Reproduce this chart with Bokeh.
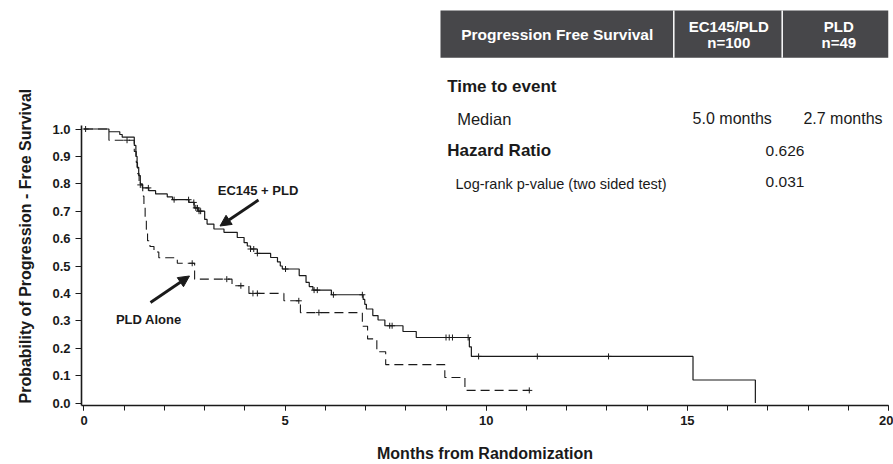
from bokeh.plotting import figure
from bokeh.models import Range1d, FixedTicker, PrintfTickFormatter, Arrow, NormalHead, Title
from bokeh.core.properties import value
from bokeh.embed import file_html
from bokeh.resources import INLINE

# ---------------- data ----------------
ec_time = [0, 0.62, 0.89, 0.95, 1.25, 1.29, 1.32, 1.36, 1.40, 1.45, 1.61, 1.78, 2.07, 2.20, 2.61, 2.74,
           2.84, 3.00, 3.06, 3.23, 3.48, 3.81, 3.98, 4.06, 4.14, 4.31, 4.64, 4.81, 4.88, 4.93, 5.35, 5.52,
           5.60, 5.69, 6.15, 6.94, 6.98, 7.02, 7.18, 7.31, 7.48, 7.93, 8.26, 9.58, 9.63, 15.14, 16.69]
ec_surv = [1.0, 0.99, 0.98, 0.97, 0.94, 0.90, 0.86, 0.83, 0.80, 0.785, 0.775, 0.763, 0.752, 0.742, 0.732, 0.712,
           0.700, 0.670, 0.653, 0.635, 0.623, 0.604, 0.585, 0.573, 0.562, 0.546, 0.531, 0.515, 0.500, 0.489, 0.465, 0.440,
           0.425, 0.412, 0.395, 0.378, 0.360, 0.343, 0.319, 0.303, 0.282, 0.261, 0.239, 0.205, 0.170, 0.084, 0.0]
ec_cens_time = [0.04, 1.60, 2.24, 2.60, 2.73, 2.78, 2.82, 2.86, 2.90, 4.14, 4.22, 4.31, 5.01, 5.72, 5.80,
                6.20, 6.92, 7.60, 7.66, 9.00, 9.08, 9.16, 9.55, 9.81, 11.27, 13.04]
ec_cens_surv = [1.0, 0.785, 0.742, 0.742, 0.732, 0.712, 0.712, 0.700, 0.700, 0.562, 0.562, 0.546, 0.489, 0.412, 0.412,
                0.395, 0.395, 0.282, 0.282, 0.239, 0.239, 0.239, 0.239, 0.170, 0.170, 0.170]

pld_time = [0, 0.62, 1.25, 1.30, 1.33, 1.37, 1.46, 1.49, 1.52, 1.55, 1.58, 1.64, 1.74, 1.86, 2.32, 2.75,
            3.68, 4.10, 4.97, 5.38, 6.92, 7.05, 7.28, 7.50, 8.97, 9.47, 11.07]
pld_surv = [1.0, 0.959, 0.918, 0.878, 0.837, 0.796, 0.755, 0.714, 0.673, 0.633, 0.592, 0.571, 0.551, 0.530, 0.510, 0.452,
            0.428, 0.400, 0.373, 0.330, 0.280, 0.234, 0.187, 0.140, 0.093, 0.046, 0.046]
pld_cens_time = [1.07, 1.40, 2.69, 3.55, 3.90, 4.20, 4.31, 5.34, 5.84, 11.07]
pld_cens_surv = [0.959, 0.796, 0.510, 0.452, 0.428, 0.400, 0.400, 0.373, 0.330, 0.046]

x_ticks = [0, 5, 10, 15, 20]
x_minor_ticks = list(range(0, 21))
y_ticks = [0.0, 0.1, 0.2, 0.3, 0.4, 0.5, 0.6, 0.7, 0.8, 0.9, 1.0]

x_title = "Months from Randomization"
y_title = "Probability of Progression - Free Survival"
ec_label = "EC145 + PLD"
pld_label = "PLD Alone"

table_header = ["Progression Free Survival", "EC145/PLD\nn=100", "PLD\nn=49"]
row_time = "Time to event"
row_median = "Median"
median_values = ["5.0 months", "2.7 months"]
row_hr = "Hazard Ratio"
hr_value = "0.626"
row_p = "Log-rank p-value (two sided test)"
p_value = "0.031"

# ---------------- layout (page pixels; the page has no margin) ----------------
W, H = 893, 464
FONT = "Liberation Sans"
INK = "#1a1a1a"
X_START, X_END = -0.062, 20.0
FRAME_L, FRAME_R = 81, 888
FRAME_T, FRAME_B = 0, 405
Y0_PX = 402.5
PX_PER_Y = 274.0
Y_START = -(FRAME_B - Y0_PX) / PX_PER_Y
Y_END = (Y0_PX - FRAME_T) / PX_PER_Y
SX = (FRAME_R - FRAME_L) / (X_END - X_START)


def dx(px):
    return X_START + (px - FRAME_L) / SX


def dy(py):
    return (Y0_PX - py) / PX_PER_Y


p = figure(width=W, height=H, output_backend="svg", toolbar_location=None,
           x_range=Range1d(X_START, X_END), y_range=Range1d(Y_START, Y_END),
           min_border_left=FRAME_L, min_border_right=W - FRAME_R, min_border_top=FRAME_T,
           min_border_bottom=H - FRAME_B)
p.outline_line_color = None
p.xgrid.visible = False
p.ygrid.visible = False
p.background_fill_color = "white"
p.border_fill_color = "white"

# axes
xa = p.xaxis[0]
xa.ticker = FixedTicker(ticks=x_ticks, minor_ticks=x_minor_ticks)
xa.axis_label = x_title
xa.axis_label_text_font = FONT
xa.axis_label_text_font_style = "bold"
xa.axis_label_text_font_size = "16px"
xa.axis_label_text_color = INK
xa.axis_label_standoff = 17
xa.major_label_text_font = FONT
xa.major_label_text_font_style = "bold"
xa.major_label_text_font_size = "13px"
xa.major_label_text_color = INK
xa.major_label_standoff = 5
xa.major_tick_in = 0
xa.major_tick_out = 5
xa.minor_tick_in = 0
xa.minor_tick_out = 5
xa.axis_line_width = 1.6
xa.axis_line_color = INK
xa.major_tick_line_color = INK
xa.minor_tick_line_color = INK

ya = p.yaxis[0]
ya.ticker = FixedTicker(ticks=y_ticks, minor_ticks=[])
ya.formatter = PrintfTickFormatter(format="%.1f")
ya.bounds = (Y_START, 1.013)
ya.major_label_text_font = FONT
ya.major_label_text_font_style = "bold"
ya.major_label_text_font_size = "13px"
ya.major_label_text_color = INK
ya.major_label_standoff = 5
ya.major_tick_in = 0
ya.major_tick_out = 6
ya.minor_tick_out = 0
ya.axis_line_width = 1.6
ya.axis_line_color = INK
ya.major_tick_line_color = INK

# y-axis title as a side title, starting near the bottom of the frame
p.add_layout(Title(text=y_title, align="left", vertical_align="top", offset=2, standoff=28,
                   text_font=FONT, text_font_style="bold", text_font_size="16px",
                   text_color=INK), "left")

# curves
p.step(ec_time, ec_surv, mode="after", line_color=INK, line_width=1.2)
p.step(pld_time, pld_surv, mode="after", line_color=INK, line_width=1.1, line_dash="9 5")
p.scatter(ec_cens_time, ec_cens_surv, marker="cross", size=6, line_color=INK, line_width=1)
p.scatter(pld_cens_time, pld_cens_surv, marker="cross", size=6, line_color=INK, line_width=1)

# curve labels and arrows
p.text(x=[dx(257.5)], y=[dy(190)], text=[ec_label], text_font=value(FONT), text_font_style="bold",
       text_font_size="13px", text_align="center", text_baseline="middle", text_color=INK)
p.text(x=[dx(148.3)], y=[dy(318.5)], text=[pld_label], text_font=value(FONT), text_font_style="bold",
       text_font_size="13px", text_align="center", text_baseline="middle", text_color=INK)
p.add_layout(Arrow(end=NormalHead(size=11, fill_color=INK, line_color=INK),
                   x_start=dx(258), y_start=dy(199.5), x_end=dx(219.5), y_end=dy(225.5),
                   line_width=2.8, line_color=INK))
p.add_layout(Arrow(end=NormalHead(size=11, fill_color=INK, line_color=INK),
                   x_start=dx(150), y_start=dy(302), x_end=dx(189), y_end=dy(275.5),
                   line_width=2.8, line_color=INK))

# table header
HEAD = "#47474a"
p.quad(left=[dx(440)], right=[X_END], top=[dy(10)], bottom=[dy(57.3)],
       fill_color=HEAD, line_color=None)
p.segment(x0=[dx(673.3), dx(781.7)], y0=[dy(10), dy(10)], x1=[dx(673.3), dx(781.7)], y1=[dy(57.3), dy(57.3)],
          line_color="white", line_width=1.5)
p.text(x=[dx(556.7)], y=[dy(34.3)], text=[table_header[0]], text_font=value(FONT), text_font_style="bold",
       text_font_size="15.5px", text_align="center", text_baseline="middle", text_color="white")
for cx, t in ((728.3, table_header[1]), (838.3, table_header[2])):
    l1, l2 = t.split("\n")
    p.text(x=[dx(cx), dx(cx)], y=[dy(26), dy(41.7)], text=[l1, l2], text_font=value(FONT),
           text_font_style="bold", text_font_size="15px", text_align="center", text_baseline="middle",
           text_color="white")

# table rows
p.text(x=[dx(446.7)], y=[dy(86)], text=[row_time], text_font=value(FONT), text_font_style="bold",
       text_font_size="17px", text_align="left", text_baseline="middle", text_color=INK)
p.text(x=[dx(456.7)], y=[dy(118.3)], text=[row_median], text_font=value(FONT),
       text_font_size="16.5px", text_align="left", text_baseline="middle", text_color=INK)
p.text(x=[dx(731.7), dx(842.5)], y=[dy(118.3), dy(118.3)], text=median_values, text_font=value(FONT),
       text_font_size="16px", text_align="center", text_baseline="middle", text_color=INK)
p.text(x=[dx(446.7)], y=[dy(150)], text=[row_hr], text_font=value(FONT), text_font_style="bold",
       text_font_size="17px", text_align="left", text_baseline="middle", text_color=INK)
p.text(x=[dx(784.5)], y=[dy(150)], text=[hr_value], text_font=value(FONT),
       text_font_size="15.5px", text_align="center", text_baseline="middle", text_color=INK)
p.text(x=[dx(455)], y=[dy(183.3)], text=[row_p], text_font=value(FONT),
       text_font_size="14.5px", text_align="left", text_baseline="middle", text_color=INK)
p.text(x=[dx(784.5)], y=[dy(181.7)], text=[p_value], text_font=value(FONT),
       text_font_size="15.5px", text_align="center", text_baseline="middle", text_color=INK)

open("out.html", "w").write(file_html(p, INLINE))
